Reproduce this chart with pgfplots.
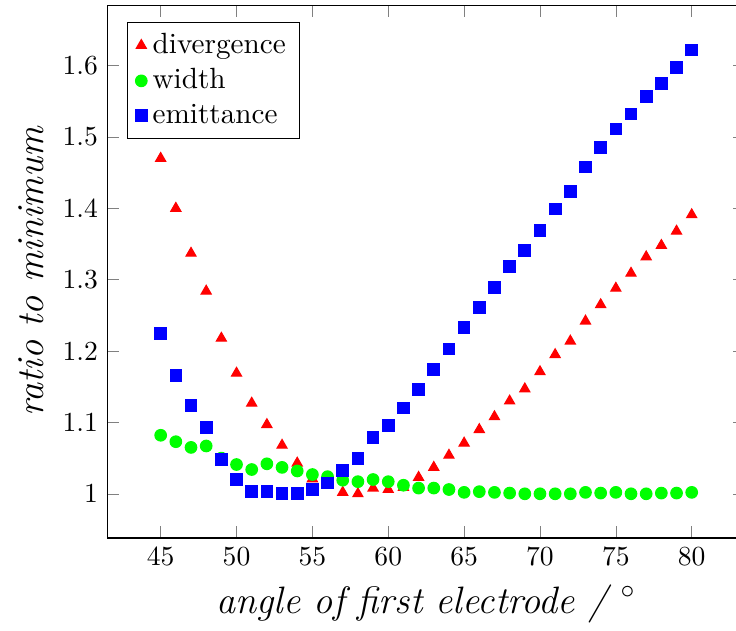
\documentclass[border=0pt]{standalone}
\usepackage{pgfplots}
\pgfplotsset{compat=1.18}
\begin{document}
\begin{tikzpicture}
\begin{axis}[
  scale only axis,
  width=231pt, height=193pt,
  xmin=41.5, xmax=83.5,
  ymin=0.938, ymax=1.684,
  xtick={45,50,55,60,65,70,75,80},
  ytick={1,1.1,1.2,1.3,1.4,1.5,1.6},
  yticklabels={1,1.1,1.2,1.3,1.4,1.5,1.6},
  xlabel={\fontsize{13.85}{16}\selectfont\itshape angle of first electrode / $^\circ$},
  ylabel={\fontsize{13.85}{16}\selectfont\itshape ratio to minimum},
  legend pos=north west,
  legend style={font=\fontsize{10.6}{13.6}\selectfont, draw=black},
  legend cell align=left,
]
\addplot[only marks, mark=triangle*, mark size=2.1pt, color=red] coordinates {
(45,1.470) (46,1.400) (47,1.337) (48,1.284) (49,1.218) (50,1.169)
(51,1.127) (52,1.097) (53,1.068) (54,1.043) (55,1.021) (56,1.012)
(57,1.002) (58,1.000) (59,1.008) (60,1.006) (61,1.009) (62,1.023)
(63,1.037) (64,1.054) (65,1.071) (66,1.090) (67,1.108) (68,1.130)
(69,1.147) (70,1.171) (71,1.195) (72,1.214) (73,1.242) (74,1.265)
(75,1.288) (76,1.309) (77,1.332) (78,1.348) (79,1.368) (80,1.391)
};
\addlegendentry{divergence}
\addplot[only marks, mark=*, mark size=2.1pt, color={rgb,1:red,0;green,1;blue,0}] coordinates {
(45,1.082) (46,1.073) (47,1.065) (48,1.067) (49,1.050) (50,1.041)
(51,1.034) (52,1.042) (53,1.037) (54,1.032) (55,1.027) (56,1.024)
(57,1.019) (58,1.017) (59,1.020) (60,1.017) (61,1.012) (62,1.008)
(63,1.008) (64,1.006) (65,1.002) (66,1.003) (67,1.002) (68,1.001)
(69,1.000) (70,1.000) (71,1.000) (72,1.000) (73,1.002) (74,1.001)
(75,1.002) (76,1.000) (77,1.000) (78,1.001) (79,1.001) (80,1.002)
};
\addlegendentry{width}
\addplot[only marks, mark=square*, mark size=2.1pt, color=blue] coordinates {
(45,1.225) (46,1.166) (47,1.124) (48,1.093) (49,1.048) (50,1.020)
(51,1.003) (52,1.003) (53,1.000) (54,1.000) (55,1.006) (56,1.015)
(57,1.033) (58,1.049) (59,1.079) (60,1.096) (61,1.120) (62,1.146)
(63,1.174) (64,1.203) (65,1.233) (66,1.261) (67,1.289) (68,1.318)
(69,1.341) (70,1.369) (71,1.399) (72,1.424) (73,1.458) (74,1.485)
(75,1.511) (76,1.532) (77,1.557) (78,1.575) (79,1.597) (80,1.622)
};
\addlegendentry{emittance}
\coordinate (BBsw) at (axis cs:34.41,0.8083);
\coordinate (BBne) at (axis cs:82.92,1.6919);
\end{axis}
\pgfresetboundingbox
\useasboundingbox (BBsw) rectangle (BBne);
\end{tikzpicture}
\end{document}
